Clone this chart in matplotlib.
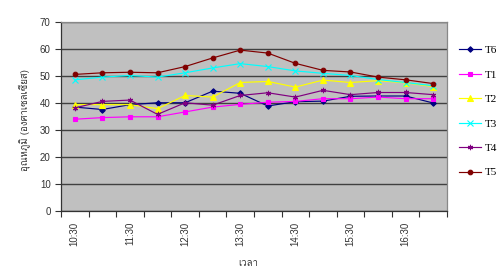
import matplotlib
matplotlib.use("Agg")
import matplotlib.pyplot as plt
import numpy as np

times = ["10:30", "11:00", "11:30", "12:00", "12:30", "13:00", "13:30",
         "14:00", "14:30", "15:00", "15:30", "16:00", "16:30", "17:00"]
T6 = [38.5, 37.6, 39.4, 40.1, 40.1, 44.4, 43.6, 38.9, 40.5, 40.7, 42.5, 42.6, 42.6, 40.0]
T1 = [34.0, 34.6, 34.9, 34.9, 36.7, 38.5, 39.5, 40.3, 40.6, 41.6, 41.6, 42.2, 41.6, 41.6]
T2 = [39.4, 39.4, 39.4, 37.9, 42.8, 42.2, 47.6, 48.0, 45.9, 48.5, 47.6, 48.3, 47.5, 46.1]
T3 = [48.6, 49.6, 50.2, 49.6, 51.2, 53.0, 54.6, 53.5, 51.9, 51.0, 50.2, 48.7, 47.6, 46.4]
T4 = [38.2, 40.6, 41.1, 35.8, 40.1, 39.2, 42.8, 43.8, 42.2, 44.7, 43.1, 43.9, 43.9, 43.1]
T5 = [50.6, 51.2, 51.4, 51.2, 53.5, 56.7, 59.6, 58.5, 54.7, 52.1, 51.5, 49.6, 48.6, 47.2]

ylabel = "อุณหภูมิ (องศาเซลเซียส)"
xlabel = "เวลา"

thai = ['Loma', 'Noto Sans Thai', 'DejaVu Sans']

fig = plt.figure(figsize=(5.0, 2.79), dpi=100)
ax = fig.add_axes([0.122, 0.2437, 0.772, 0.6773])
ax.set_facecolor("#C0C0C0")

x = np.arange(len(times))
series = [
    ("T6", T6, "#000080", "D", 2.8),
    ("T1", T1, "#FF00FF", "s", 3.3),
    ("T2", T2, "#FFFF00", "^", 3.8),
    ("T3", T3, "#00FFFF", "x", 3.8),
    ("T4", T4, "#800080", "x", 3.8),
    ("T5", T5, "#800000", "o", 3.3),
]
for name, vals, col, mk, ms in series:
    if name == "T4":
        ax.plot(x, vals, color=col, lw=0.85, marker=(6, 2, 0), ms=ms, mew=0.8, label=name)
    else:
        ax.plot(x, vals, color=col, lw=0.85, marker=mk, ms=ms, mew=0.8, label=name,
                markerfacecolor=col, markeredgecolor=col)

ax.set_xlim(-0.5, len(times) - 0.5)
ax.set_ylim(0, 70)
ax.set_yticks(np.arange(0, 71, 10))
ax.yaxis.grid(True, color="#404040", lw=1.0)
ax.set_axisbelow(True)

ax.set_xticks(np.arange(-0.5, len(times), 1), minor=False)
ax.set_xticklabels([])
ax.set_xticks(x[::2], minor=True)
ax.set_xticklabels(times[::2], minor=True, rotation=90, fontsize=7, color="#333333",
                   family=['Liberation Sans'])
ax.tick_params(axis="x", which="major", length=4, width=0.8, color="#333333", direction="out")
ax.tick_params(axis="x", which="minor", length=0, pad=8)
ax.tick_params(axis="y", length=4, width=0.8, color="#333333", labelsize=7, labelcolor="#333333")
for lab in ax.get_yticklabels():
    lab.set_family('Liberation Sans')

ax.spines["left"].set_color("#333333")
ax.spines["bottom"].set_color("#333333")
ax.spines["top"].set_color("#888888")
ax.spines["right"].set_color("#888888")
for s in ax.spines.values():
    s.set_linewidth(0.9)

fig.text(0.05, 0.57, ylabel, rotation=90, ha="center", va="center", fontsize=6.9,
         family=thai, color="#333333")
fig.text(0.496, 0.057, xlabel, ha="center", va="center", fontsize=6.9, family=thai, color="#333333")

leg = fig.legend(loc="upper left", bbox_to_anchor=(0.918, 0.837), frameon=False,
                 prop={'family': 'Liberation Serif', 'size': 8}, handlelength=2.0,
                 labelspacing=1.32, handletextpad=0.3, borderpad=0, borderaxespad=0)

fig.savefig("out.png", dpi=100)
